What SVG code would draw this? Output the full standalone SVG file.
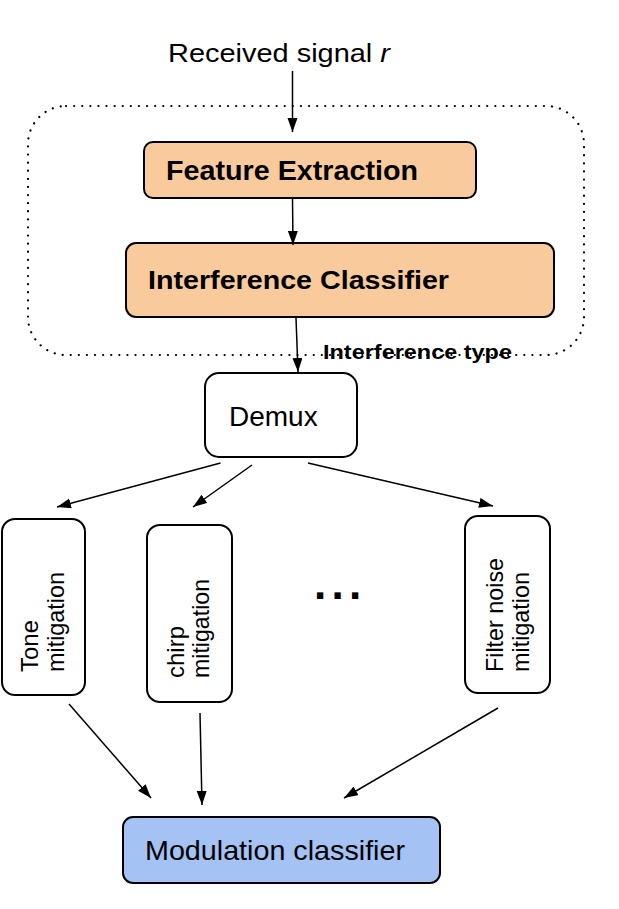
<svg xmlns="http://www.w3.org/2000/svg" width="619" height="909" viewBox="0 0 619 909">
  <style>
    .box { stroke: #000; stroke-width: 2; }
    .orange { fill: #f9cb9c; }
    .blue { fill: #a4c2f4; }
    .white { fill: #fff; }
    .t { font-family: "Liberation Sans", Arial, sans-serif; fill: #000; }
    .b { font-weight: bold; }
    .conn { stroke: #000; stroke-width: 1.5; fill: none; marker-end: url(#ah); }
    .frame { fill: none; stroke: #000; stroke-width: 2.2; stroke-dasharray: 0.1 8; stroke-linecap: round; }
  </style>
  <defs>
    <marker id="ah" markerUnits="userSpaceOnUse" markerWidth="15" markerHeight="11" refX="14" refY="5" orient="auto">
      <path d="M0,0 L14,5 L0,10 z" fill="#000"/>
    </marker>
  </defs>
  <rect width="619" height="909" fill="#fff"/>

  <g id="frame">
    <rect class="frame" x="28" y="106" width="556" height="249" rx="38" ry="38"/>
  </g>

  <g id="input-label">
    <text class="t" x="168" y="61.5" font-size="26" textLength="222" lengthAdjust="spacingAndGlyphs">Received signal <tspan font-style="italic">r</tspan></text>
  </g>

  <g id="feature-extraction">
    <rect class="box orange" x="144" y="142" width="332" height="56" rx="9"/>
    <text class="t b" x="166" y="180" font-size="27" textLength="252" lengthAdjust="spacingAndGlyphs">Feature Extraction</text>
  </g>

  <g id="interference-classifier">
    <rect class="box orange" x="126" y="243" width="428" height="74" rx="10"/>
    <text class="t b" x="148" y="289" font-size="26.5" textLength="301" lengthAdjust="spacingAndGlyphs">Interference Classifier</text>
  </g>

  <g id="demux">
    <rect class="box white" x="205" y="373" width="152" height="84" rx="14"/>
    <text class="t" x="229" y="426" font-size="28">Demux</text>
  </g>

  <g id="tone">
    <rect class="box white" x="2" y="519" width="83" height="176" rx="13"/>
    <text class="t" font-size="24" transform="translate(38,672) rotate(-90)">Tone</text>
    <text class="t" font-size="24" transform="translate(63.5,672) rotate(-90)" textLength="100" lengthAdjust="spacingAndGlyphs">mitigation</text>
  </g>

  <g id="chirp">
    <rect class="box white" x="147" y="525" width="85" height="177" rx="13"/>
    <text class="t" font-size="24" transform="translate(183.5,678) rotate(-90)">chirp</text>
    <text class="t" font-size="24" transform="translate(209,678) rotate(-90)" textLength="99" lengthAdjust="spacingAndGlyphs">mitigation</text>
  </g>

  <g id="ellipsis">
    <text class="t b" x="314" y="599" font-size="44" letter-spacing="5.3">...</text>
  </g>

  <g id="filter-noise">
    <rect class="box white" x="465" y="516" width="85" height="177" rx="13"/>
    <text class="t" font-size="24" transform="translate(502.5,672) rotate(-90)" textLength="114" lengthAdjust="spacingAndGlyphs">Filter noise</text>
    <text class="t" font-size="24" transform="translate(529,672) rotate(-90)" textLength="100" lengthAdjust="spacingAndGlyphs">mitigation</text>
  </g>

  <g id="modulation-classifier">
    <rect class="box blue" x="123" y="817" width="317" height="66" rx="10"/>
    <text class="t" x="145" y="860" font-size="28" textLength="260" lengthAdjust="spacingAndGlyphs">Modulation classifier</text>
  </g>

  <g id="connectors">
    <line class="conn" x1="292.5" y1="71" x2="292.5" y2="132"/>
    <line class="conn" x1="292.5" y1="198" x2="293" y2="245"/>
    <line class="conn" x1="296" y1="318" x2="298" y2="372"/>
    <line class="conn" x1="220.5" y1="463" x2="57" y2="507"/>
    <line class="conn" x1="252" y1="465" x2="193" y2="507"/>
    <line class="conn" x1="308" y1="463" x2="493" y2="506"/>
    <line class="conn" x1="69" y1="704" x2="151" y2="798"/>
    <line class="conn" x1="200" y1="713" x2="202" y2="805"/>
    <line class="conn" x1="498" y1="708" x2="344" y2="798"/>
  </g>

  <g id="edge-label">
    <text class="t b" x="323" y="359" font-size="19.5" textLength="189" lengthAdjust="spacingAndGlyphs">Interference type</text>
  </g>
</svg>
